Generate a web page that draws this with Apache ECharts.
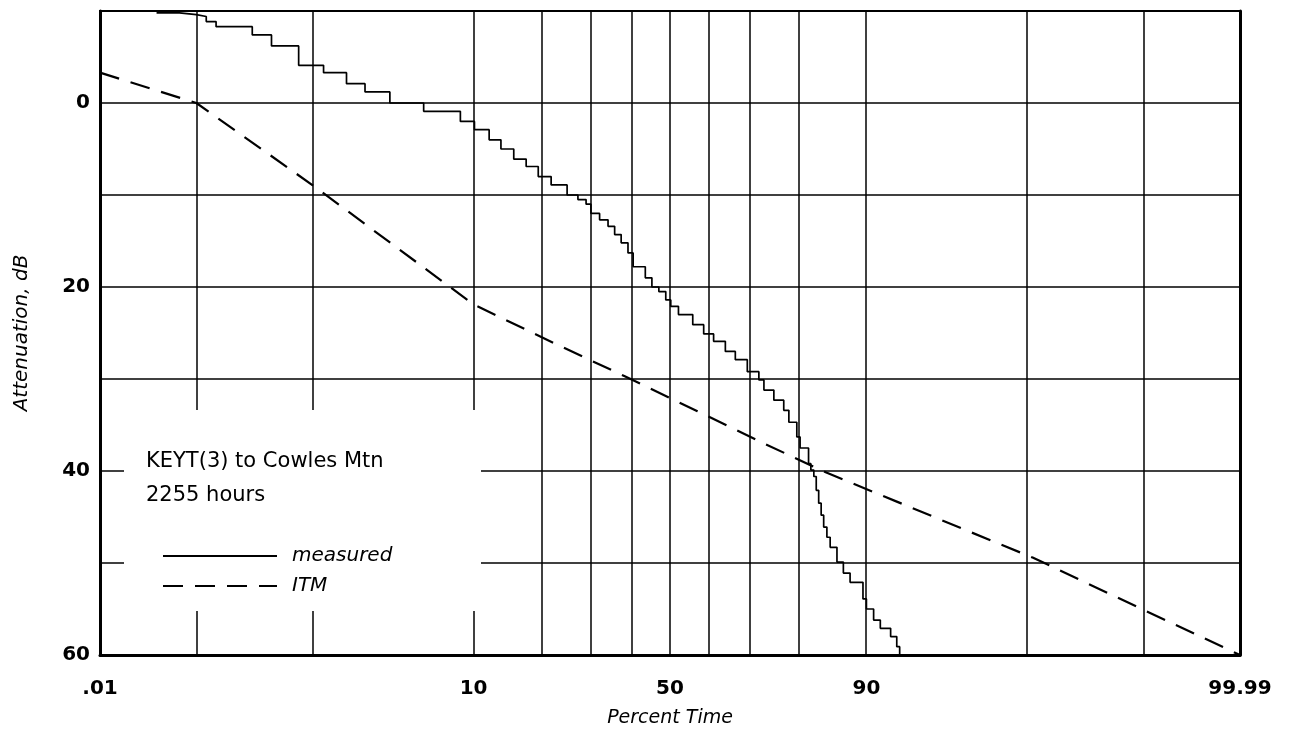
<!DOCTYPE html>
<html>
<head>
<meta charset="utf-8">
<script src="https://cdn.jsdelivr.net/npm/echarts@6.0.0/dist/echarts.min.js"></script>
<style>
html,body{margin:0;padding:0;background:#fff;}
#chart{width:1293px;height:735px;}
</style>
</head>
<body>
<div id="chart"></div>
<script>
// ---- data (percent of time, attenuation dB) ----
const gridPercents = [0.1, 1, 10, 20, 30, 40, 50, 60, 70, 80, 90, 99, 99.9];
const xLabelPercents = [0.01, 10, 50, 90, 99.99];
const xLabelTexts = ['.01', '10', '50', '90', '99.99'];
const yLabelValues = [0, 20, 40, 60];

const measured = [
  [0.0404, -9.8], [0.0687, -9.6], [0.1, -9.4], [0.124, -8.85], [0.153, -8.3],
  [0.321, -7.4], [0.466, -6.2], [0.770, -4.1], [1.19, -3.3], [1.74, -2.1],
  [2.33, -1.2], [3.38, 0.0], [5.4, 0.9], [8.57, 2.0], [10.1, 2.9],
  [11.9, 4.0], [13.5, 5.0], [15.4, 6.1], [17.4, 6.9], [19.5, 8.0],
  [21.9, 8.9], [25.1, 10.0], [27.4, 10.5], [29.2, 11.0], [30.3, 12.0],
  [32.3, 12.7], [34.3, 13.4], [35.9, 14.3], [37.5, 15.2], [39.2, 16.3],
  [40.5, 17.8], [43.6, 19.0], [45.3, 20.0], [47.1, 20.5], [48.9, 21.4],
  [50.2, 22.1], [52.2, 23.0], [55.9, 24.1], [58.7, 25.1], [61.2, 25.9],
  [64.1, 27.0], [66.5, 27.9], [69.3, 29.2], [71.9, 30.1], [73.0, 31.2],
  [75.1, 32.3], [77.1, 33.4], [78.1, 34.7], [79.6, 36.3], [80.2, 37.5],
  [81.7, 39.2], [82.1, 39.9], [82.6, 40.6], [83.0, 42.1], [83.4, 43.5],
  [83.8, 44.8], [84.2, 46.1], [84.7, 47.2], [85.2, 48.3], [86.2, 49.9],
  [87.1, 51.1], [88.0, 52.1], [89.6, 53.9], [90.0, 55.0], [90.8, 56.2],
  [91.5, 57.1], [92.5, 58.0], [93.05, 59.1], [93.3, 60.0]
];

const itm = [
  [0.01, -3.3], [0.1, 0.0], [1, 9.0], [10, 21.9], [23.2, 26.3],
  [38.4, 29.7], [57.1, 33.5], [73, 37.0], [84.7, 40.2], [93, 43.3],
  [98.4, 47.9], [99.1, 49.4], [99.9, 55.1], [99.99, 60.0]
];

// ---- normal probability scale (percent -> standard normal quantile) ----
function probit(pct) {
  const q = pct / 100;
  const a = [-3.969683028665376e+01, 2.209460984245205e+02, -2.759285104469687e+02, 1.383577518672690e+02, -3.066479806614716e+01, 2.506628277459239e+00];
  const b = [-5.447609879822406e+01, 1.615858368580409e+02, -1.556989798598866e+02, 6.680131188771972e+01, -1.328068155288572e+01];
  const c = [-7.784894002430293e-03, -3.223964580411365e-01, -2.400758277161838e+00, -2.549732539343734e+00, 4.374664141464968e+00, 2.938163982698783e+00];
  const d = [7.784695709041462e-03, 3.224671290700398e-01, 2.445134137142996e+00, 3.754408661907416e+00];
  const pl = 0.02425, ph = 1 - pl;
  let r, s;
  if (q < pl) {
    r = Math.sqrt(-2 * Math.log(q));
    return (((((c[0]*r+c[1])*r+c[2])*r+c[3])*r+c[4])*r+c[5]) / ((((d[0]*r+d[1])*r+d[2])*r+d[3])*r+1);
  } else if (q <= ph) {
    r = q - 0.5; s = r * r;
    return (((((a[0]*s+a[1])*s+a[2])*s+a[3])*s+a[4])*s+a[5])*r / (((((b[0]*s+b[1])*s+b[2])*s+b[3])*s+b[4])*s+1);
  } else {
    r = Math.sqrt(-2 * Math.log(1 - q));
    return -(((((c[0]*r+c[1])*r+c[2])*r+c[3])*r+c[4])*r+c[5]) / ((((d[0]*r+d[1])*r+d[2])*r+d[3])*r+1);
  }
}

const zMin = probit(xLabelPercents[0]);
const zMax = probit(xLabelPercents[xLabelPercents.length - 1]);
const xLabelZ = xLabelPercents.map(probit);
const FONT = '"DejaVu Sans", "Liberation Sans", Arial, sans-serif';

const chart = echarts.init(document.getElementById('chart'), null, {renderer: 'canvas'});
chart.setOption({
  animation: false,
  backgroundColor: '#ffffff',
  title: {
    text: 'KEYT(3) to Cowles Mtn\n2255 hours',
    left: 141, top: 440, z: 20,
    textStyle: {fontFamily: FONT, fontSize: 21, fontWeight: 'normal', color: '#000', lineHeight: 34}
  },
  legend: {
    orient: 'vertical', left: 157, top: 541, z: 20,
    itemWidth: 114, itemHeight: 20, itemGap: 10,
    selectedMode: false,
    data: ['measured', 'ITM'],
    itemStyle: {opacity: 0, color: 'transparent', borderWidth: 0},
    textStyle: {fontFamily: FONT, fontSize: 20, fontStyle: 'italic', color: '#000', padding: [0, 0, 0, 10], lineHeight: 20}
  },
  graphic: [{
    type: 'rect', z: 10, silent: true,
    shape: {x: 124, y: 410, width: 357, height: 201},
    style: {fill: '#ffffff'}
  }],
  grid: {left: 100, right: 53, top: 11, bottom: 80, show: true, borderColor: '#000', borderWidth: 2, backgroundColor: 'transparent'},
  xAxis: {
    type: 'value', min: zMin, max: zMax,
    name: 'Percent Time', nameLocation: 'middle', nameGap: 54,
    nameTextStyle: {fontFamily: FONT, fontSize: 19, fontStyle: 'italic', color: '#000'},
    axisLine: {show: true, onZero: false, lineStyle: {color: '#000', width: 3}},
    axisTick: {show: false, customValues: xLabelZ},
    axisLabel: {
      customValues: xLabelZ, margin: 24, color: '#000',
      fontFamily: FONT, fontSize: 20, fontWeight: 'bold',
      formatter: function (v) {
        for (let i = 0; i < xLabelZ.length; i++) {
          if (Math.abs(xLabelZ[i] - v) < 1e-6) return xLabelTexts[i];
        }
        return '';
      }
    },
    splitLine: {show: false}
  },
  yAxis: [{
    type: 'value', inverse: true, min: -10, max: 60, interval: 10,
    name: 'Attenuation, dB', nameLocation: 'middle', nameGap: 68, nameRotate: 90,
    nameTextStyle: {fontFamily: FONT, fontSize: 20, fontStyle: 'italic', color: '#000'},
    axisLine: {show: true, onZero: false, lineStyle: {color: '#000', width: 3}},
    axisTick: {show: false},
    axisLabel: {
      margin: 10, color: '#000', fontFamily: FONT, fontSize: 20, fontWeight: 'bold',
      formatter: function (v) { return yLabelValues.indexOf(v) >= 0 ? String(v) : ''; }
    },
    splitLine: {show: true, lineStyle: {color: '#000', width: 1.5}}
  }, {
    type: 'value', inverse: true, min: -10, max: 60, position: 'right',
    axisLine: {show: true, onZero: false, lineStyle: {color: '#000', width: 3}},
    axisTick: {show: false}, axisLabel: {show: false}, splitLine: {show: false}
  }],
  series: [{
    name: 'measured', type: 'line', step: 'end', yAxisIndex: 0,
    symbol: 'none', showSymbol: false, z: 3,
    lineStyle: {color: '#000', width: 1.7},
    itemStyle: {color: '#000'},
    data: measured.map(function (d) { return [probit(d[0]), d[1]]; })
  }, {
    name: 'ITM', type: 'line', yAxisIndex: 0,
    symbol: 'none', showSymbol: false, z: 3,
    lineStyle: {color: '#000', width: 2.2, type: [20, 12]},
    itemStyle: {color: '#000'},
    data: itm.map(function (d) { return [probit(d[0]), d[1]]; }),
    markLine: {
      silent: true, symbol: ['none', 'none'], animation: false,
      label: {show: false},
      lineStyle: {color: '#000', width: 1.5, type: 'solid'},
      emphasis: {disabled: true},
      data: gridPercents.map(function (p) { return {xAxis: probit(p)}; })
    }
  }]
});
</script>
</body>
</html>
